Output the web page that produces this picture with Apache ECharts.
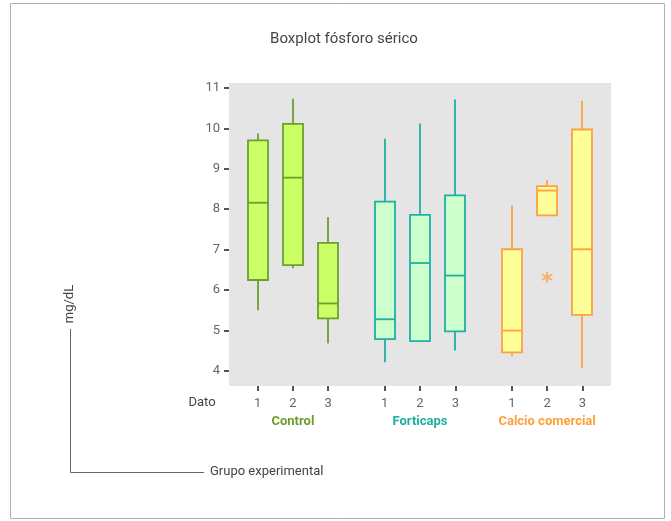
<!DOCTYPE html>
<html>
<head>
<meta charset="utf-8">
<script src="https://cdn.jsdelivr.net/npm/echarts@6/dist/echarts.min.js"></script>
<style>html,body{margin:0;padding:0;background:#fff}#c{width:671px;height:521px}</style>
</head>
<body>
<div id="c"></div>
<script>
// ---- data ----
var groups = ['Control', 'Forticaps', 'Calcio comercial'];
var datoLabels = ['1', '2', '3'];
var yTicks = [4, 5, 6, 7, 8, 9, 10, 11];
// each box: [min, Q1, median, Q3, max]
var control   = [[5.50, 6.25, 8.16, 9.70, 9.87], [6.54, 6.62, 8.78, 10.11, 10.73], [4.68, 5.30, 5.67, 7.17, 7.81]];
var forticaps = [[4.22, 4.79, 5.28, 8.19, 9.74], [4.74, 4.74, 6.67, 7.86, 10.12], [4.51, 4.98, 6.36, 8.34, 10.71]];
var calcio    = [[4.36, 4.46, 5.00, 7.01, 8.09], [7.85, 7.85, 8.46, 8.57, 8.72], [4.08, 5.39, 7.01, 9.97, 10.68]];
var outliers  = [[2, 1, 6.32]]; // [groupIndex, datoIndex, value]

// ---- layout helpers ----
var GROUP_STEP = 3.6;
var BOX_W = 20;
function xPos(g, d) { return Math.round((g * GROUP_STEP + d) * 100) / 100; }
var seriesData = [control, forticaps, calcio];
var colors = [
  { fill: '#ccff66', line: '#6c9f30', text: '#6a9e2e' },
  { fill: '#ccffcc', line: '#1fb0a2', text: '#1eb0a2' },
  { fill: '#ffff99', line: '#ffa040', text: '#ff9f3a' }
];
var FONT = 'Roboto, sans-serif';

var tickPos = [];
groups.forEach(function (g, gi) { datoLabels.forEach(function (d, di) { tickPos.push(xPos(gi, di)); }); });
var groupCenters = groups.map(function (g, gi) { return xPos(gi, 1); });

function makeRender(c) {
  return function (params, api) {
    var x = api.value(0);
    var pMin = api.coord([x, api.value(1)]);
    var pQ1 = api.coord([x, api.value(2)]);
    var pMed = api.coord([x, api.value(3)]);
    var pQ3 = api.coord([x, api.value(4)]);
    var pMax = api.coord([x, api.value(5)]);
    var cx = Math.round(pMed[0]);
    var h = BOX_W / 2;
    var ls = { stroke: c.line, lineWidth: 1.8 };
    return {
      type: 'group',
      children: [
        { type: 'line', shape: { x1: cx, y1: pQ3[1], x2: cx, y2: pMax[1] }, style: ls },
        { type: 'line', shape: { x1: cx, y1: pQ1[1], x2: cx, y2: pMin[1] }, style: ls },
        { type: 'rect', shape: { x: cx - h, y: pQ3[1], width: BOX_W, height: pQ1[1] - pQ3[1] }, style: { fill: c.fill, stroke: c.line, lineWidth: 1.8 } },
        { type: 'line', shape: { x1: cx - h, y1: pMed[1], x2: cx + h, y2: pMed[1] }, style: ls }
      ]
    };
  };
}

var series = seriesData.map(function (boxes, gi) {
  return {
    type: 'custom',
    name: groups[gi],
    renderItem: makeRender(colors[gi]),
    encode: { x: 0, y: [1, 2, 3, 4, 5] },
    data: boxes.map(function (b, di) { return [xPos(gi, di)].concat(b); })
  };
});
var starPath = 'path://M4.2 0 L5.8 0 L5.8 10 L4.2 10 Z ' +
  'M0.27 3.193 L1.07 1.807 L9.73 6.807 L8.93 8.193 Z ' +
  'M1.07 8.193 L0.27 6.807 L8.93 1.807 L9.73 3.193 Z';
series.push({
  type: 'scatter',
  symbol: starPath,
  symbolSize: 11,
  itemStyle: { color: '#ffa040' },
  data: outliers.map(function (o) { return [xPos(o[0], o[1]), o[2]]; })
});

var chart = echarts.init(document.getElementById('c'));
chart.setOption({
  animation: false,
  backgroundColor: '#fff',
  title: {
    text: 'Boxplot fósforo sérico',
    left: 339, top: 27, textAlign: 'center',
    textStyle: { fontFamily: FONT, fontSize: 15, fontWeight: 'normal', color: '#444' }
  },
  grid: { left: 229, top: 83, width: 382, height: 303, show: true, backgroundColor: '#e5e5e5', borderWidth: 0 },
  xAxis: [{
    type: 'value', min: -0.81, max: 10.01,
    axisLine: { show: false, onZero: false },
    splitLine: { show: false },
    axisTick: { show: true, customValues: tickPos, length: 5, lineStyle: { color: '#555', width: 2 } },
    axisLabel: {
      customValues: tickPos, margin: 11,
      fontFamily: FONT, fontSize: 13, color: '#666',
      formatter: function (v) {
        for (var i = 0; i < tickPos.length; i++) if (Math.abs(tickPos[i] - v) < 0.01) return datoLabels[i % 3];
        return '';
      }
    }
  }, {
    type: 'value', min: -0.81, max: 10.01, position: 'bottom', offset: 18,
    axisLine: { show: false, onZero: false }, splitLine: { show: false }, axisTick: { show: false },
    axisLabel: {
      customValues: groupCenters, margin: 11,
      fontFamily: FONT, fontSize: 13, fontWeight: 'bold',
      formatter: function (v) {
        for (var i = 0; i < groupCenters.length; i++) if (Math.abs(groupCenters[i] - v) < 0.01) return '{g' + i + '|' + groups[i] + '}';
        return '';
      },
      rich: {
        g0: { color: colors[0].text, fontFamily: FONT, fontSize: 13, fontWeight: 'bold' },
        g1: { color: colors[1].text, fontFamily: FONT, fontSize: 13, fontWeight: 'bold' },
        g2: { color: colors[2].text, fontFamily: FONT, fontSize: 13, fontWeight: 'bold' }
      }
    }
  }],
  yAxis: {
    type: 'value', min: 3.63, max: 11.12,
    axisLine: { show: false, onZero: false },
    splitLine: { show: false },
    axisTick: { show: true, customValues: yTicks, length: 5, lineStyle: { color: '#555', width: 2 } },
    axisLabel: { customValues: yTicks, margin: 9, fontFamily: FONT, fontSize: 13, color: '#666' }
  },
  graphic: [
    { type: 'rect', shape: { x: 10.5, y: 3.5, width: 654, height: 515 }, style: { fill: 'none', stroke: '#b0b0b0', lineWidth: 1 }, silent: true },
    { type: 'text', x: 202, y: 403, style: { text: 'Dato', fontFamily: FONT, fontSize: 13, fill: '#444', align: 'center', verticalAlign: 'middle' } },
    { type: 'text', x: 70, y: 304, rotation: Math.PI / 2, style: { text: 'mg/dL', fontFamily: FONT, fontSize: 13, fill: '#444', align: 'center', verticalAlign: 'middle' } },
    { type: 'polyline', shape: { points: [[70.5, 329], [70.5, 472.5], [204, 472.5]] }, style: { stroke: '#666', lineWidth: 1, fill: 'none' } },
    { type: 'text', x: 210, y: 472, style: { text: 'Grupo experimental', fontFamily: FONT, fontSize: 13, fill: '#444', align: 'left', verticalAlign: 'middle' } }
  ],
  series: series
});
</script>
</body>
</html>
